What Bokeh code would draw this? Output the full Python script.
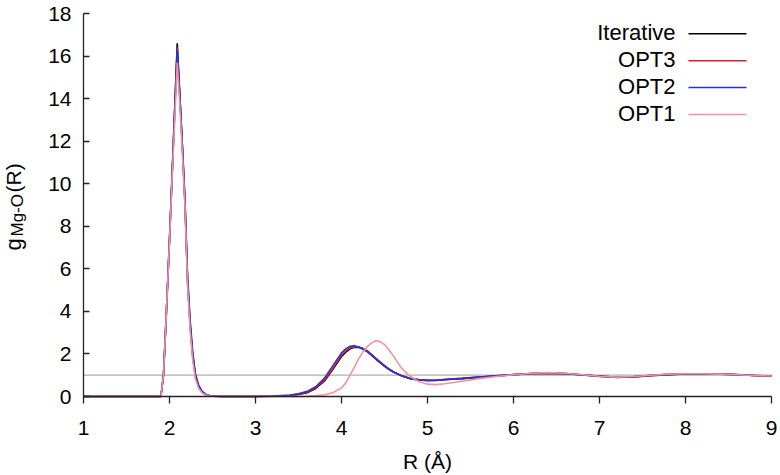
from bokeh.plotting import figure
from bokeh.models import Range1d, Label, FixedTicker
from bokeh.embed import file_html
from bokeh.resources import INLINE

# ---------------- data ----------------
R = [1.00, 1.88, 1.90, 1.93, 1.96, 2.00, 2.03, 2.06, 2.09, 2.12,
     2.15, 2.18, 2.21, 2.24, 2.27, 2.30, 2.34, 2.38, 2.42, 2.46,
     2.52, 2.60, 2.80, 3.00, 3.20, 3.40, 3.50, 3.60, 3.70, 3.80,
     3.90, 4.00, 4.05, 4.10, 4.15, 4.20, 4.25, 4.30, 4.35, 4.40,
     4.45, 4.50, 4.55, 4.60, 4.70, 4.80, 4.90, 5.00, 5.10, 5.20,
     5.40, 5.60, 5.80, 6.00, 6.20, 6.40, 6.60, 6.80, 7.00, 7.20,
     7.40, 7.60, 7.80, 8.00, 8.20, 8.40, 8.60, 8.80, 9.00]

g_iterative = [0.0, 0.0, 0.0, 1.0, 3.6, 7.4, 10.4, 13.5, 16.6, 14.2,
               11.7, 9.1, 5.4, 3.3, 1.9, 1.0, 0.45, 0.20, 0.09, 0.04,
               0.01, 0.0, 0.0, 0.0, 0.01, 0.05, 0.10, 0.18, 0.38, 0.72,
               1.28, 1.88, 2.08, 2.24, 2.31, 2.32, 2.25, 2.14, 1.97, 1.79,
               1.62, 1.45, 1.30, 1.17, 0.98, 0.85, 0.78, 0.75, 0.76, 0.79,
               0.84, 0.90, 0.96, 1.02, 1.07, 1.10, 1.08, 1.02, 0.96, 0.90,
               0.92, 0.98, 1.03, 1.06, 1.07, 1.06, 1.03, 0.99, 0.96]

g_opt3 = [0.0, 0.0, 0.0, 1.0, 3.6, 7.4, 10.4, 13.4, 16.4, 14.1,
          11.7, 9.1, 5.5, 3.4, 1.9, 1.0, 0.46, 0.20, 0.09, 0.04,
          0.01, 0.0, 0.0, 0.0, 0.01, 0.05, 0.11, 0.20, 0.41, 0.76,
          1.32, 1.95, 2.14, 2.28, 2.33, 2.33, 2.24, 2.13, 1.96, 1.78,
          1.61, 1.44, 1.29, 1.16, 0.97, 0.84, 0.78, 0.76, 0.77, 0.80,
          0.85, 0.91, 0.97, 1.03, 1.08, 1.10, 1.08, 1.01, 0.95, 0.91,
          0.93, 0.99, 1.04, 1.06, 1.07, 1.05, 1.02, 0.99, 0.96]

g_opt2 = [0.0, 0.0, 0.0, 1.0, 3.6, 7.3, 10.3, 13.3, 16.3, 14.1,
          11.8, 9.3, 5.7, 3.6, 2.1, 1.1, 0.52, 0.24, 0.11, 0.05,
          0.02, 0.0, 0.0, 0.0, 0.02, 0.07, 0.13, 0.24, 0.46, 0.85,
          1.45, 2.05, 2.24, 2.36, 2.38, 2.33, 2.22, 2.10, 1.93, 1.75,
          1.58, 1.42, 1.28, 1.15, 0.96, 0.84, 0.78, 0.76, 0.77, 0.80,
          0.85, 0.91, 0.97, 1.03, 1.08, 1.09, 1.07, 1.01, 0.94, 0.91,
          0.94, 1.00, 1.04, 1.06, 1.06, 1.05, 1.02, 0.99, 0.96]

g_opt1 = [0.0, 0.0, 0.0, 1.0, 3.6, 7.3, 10.2, 12.9, 15.7, 13.7,
          11.4, 8.9, 5.2, 3.1, 1.7, 0.85, 0.38, 0.16, 0.07, 0.03,
          0.01, 0.0, 0.0, 0.0, 0.0, 0.0, 0.0, 0.01, 0.03, 0.08,
          0.18, 0.40, 0.64, 1.00, 1.38, 1.78, 2.10, 2.34, 2.52, 2.62,
          2.58, 2.44, 2.20, 1.92, 1.32, 0.95, 0.70, 0.58, 0.56, 0.60,
          0.72, 0.84, 0.94, 1.02, 1.08, 1.12, 1.09, 1.02, 0.95, 0.91,
          0.94, 1.00, 1.05, 1.07, 1.07, 1.05, 1.02, 0.99, 0.96]

series_names = ["Iterative", "OPT3", "OPT2", "OPT1"]
series_values = [g_iterative, g_opt3, g_opt2, g_opt1]
x_ticks = [1, 2, 3, 4, 5, 6, 7, 8, 9]
y_ticks = [0, 2, 4, 6, 8, 10, 12, 14, 16, 18]
ref_level = 1.0

# ---------------- layout / styling ----------------
colors = ["#000000", "#d6202c", "#2433d6", "#f0939c"]
FONT = "Liberation Sans"
FS = "21px"
W, H = 780, 475
# pixel positions of the axis limits on the canvas
PXL, PXR = 83, 771     # x = 1 .. 9
PYB, PYT = 396, 13     # y = 0 .. 18
X0, X1 = x_ticks[0], x_ticks[-1]
Y0, Y1 = y_ticks[0], y_ticks[-1]
xs = (X1 - X0) / (PXR - PXL)
ys = (Y1 - Y0) / (PYB - PYT)


def dx(px):
    return X0 + (px - PXL) * xs


def dy(py):
    return Y0 + (PYB - py) * ys


p = figure(width=W, height=H, output_backend="svg", toolbar_location=None,
           x_range=Range1d(dx(0), dx(W)), y_range=Range1d(dy(H), dy(0)))
p.min_border = 0
p.min_border_left = 0
p.min_border_right = 0
p.min_border_top = 0
p.min_border_bottom = 0
p.outline_line_color = None
p.xgrid.visible = False
p.ygrid.visible = False
p.background_fill_color = "white"
p.border_fill_color = "white"

for ax in (p.xaxis[0], p.yaxis[0]):
    ax.axis_line_color = "#222222"
    ax.axis_line_width = 1.3
    ax.major_tick_line_color = "#222222"
    ax.major_tick_line_width = 1.3
    ax.minor_tick_line_color = None
    ax.major_label_text_font = FONT
    ax.major_label_text_font_size = FS
    ax.major_label_text_color = "#000000"

p.xaxis.fixed_location = Y0
p.yaxis.fixed_location = X0
p.xaxis.bounds = (X0, X1)
p.yaxis.bounds = (Y0, Y1)
p.xaxis.ticker = FixedTicker(ticks=x_ticks)
p.yaxis.ticker = FixedTicker(ticks=y_ticks)
p.xaxis.major_tick_in = 0
p.xaxis.major_tick_out = 7
p.xaxis.major_label_standoff = 17
p.yaxis.major_tick_in = 6
p.yaxis.major_tick_out = 0
p.yaxis.major_label_standoff = 12

# reference level g = 1
p.segment(x0=X0, x1=X1, y0=ref_level, y1=ref_level,
          line_color="#b0b0b0", line_width=1.2)

for name, vals, col in zip(series_names, series_values, colors):
    p.line(R, vals, line_color=col, line_width=1.6)

# legend (text right-aligned, swatch to its right)
leg_rows = [33.3, 60.3, 87.0, 114.0]
for name, col, yl in zip(series_names, colors, leg_rows):
    p.add_layout(Label(x=dx(675), y=dy(yl - 1), text=name, text_align="right",
                       text_baseline="middle", text_font=FONT,
                       text_font_size="22px", text_color="#000000"))
    p.segment(x0=dx(688), x1=dx(746), y0=dy(yl), y1=dy(yl),
              line_color=col, line_width=1.6)

# axis titles
p.add_layout(Label(x=dx(427), y=dy(461), text="R (Å)", text_align="center",
                   text_baseline="alphabetic", text_font=FONT,
                   text_font_size=FS, text_color="#000000"))
p.add_layout(Label(x=dx(13), y=dy(250), text="g", angle=1.5707963,
                   text_align="left", text_baseline="alphabetic",
                   text_font=FONT, text_font_size="22px", text_color="#000000"))
p.add_layout(Label(x=dx(17), y=dy(236), text="Mg-O", angle=1.5707963,
                   text_align="left", text_baseline="alphabetic",
                   text_font=FONT, text_font_size="17px", text_color="#000000"))
p.add_layout(Label(x=dx(13), y=dy(192), text="(R)", angle=1.5707963,
                   text_align="left", text_baseline="alphabetic",
                   text_font=FONT, text_font_size=FS, text_color="#000000"))

open("out.html", "w").write(file_html(p, INLINE))
